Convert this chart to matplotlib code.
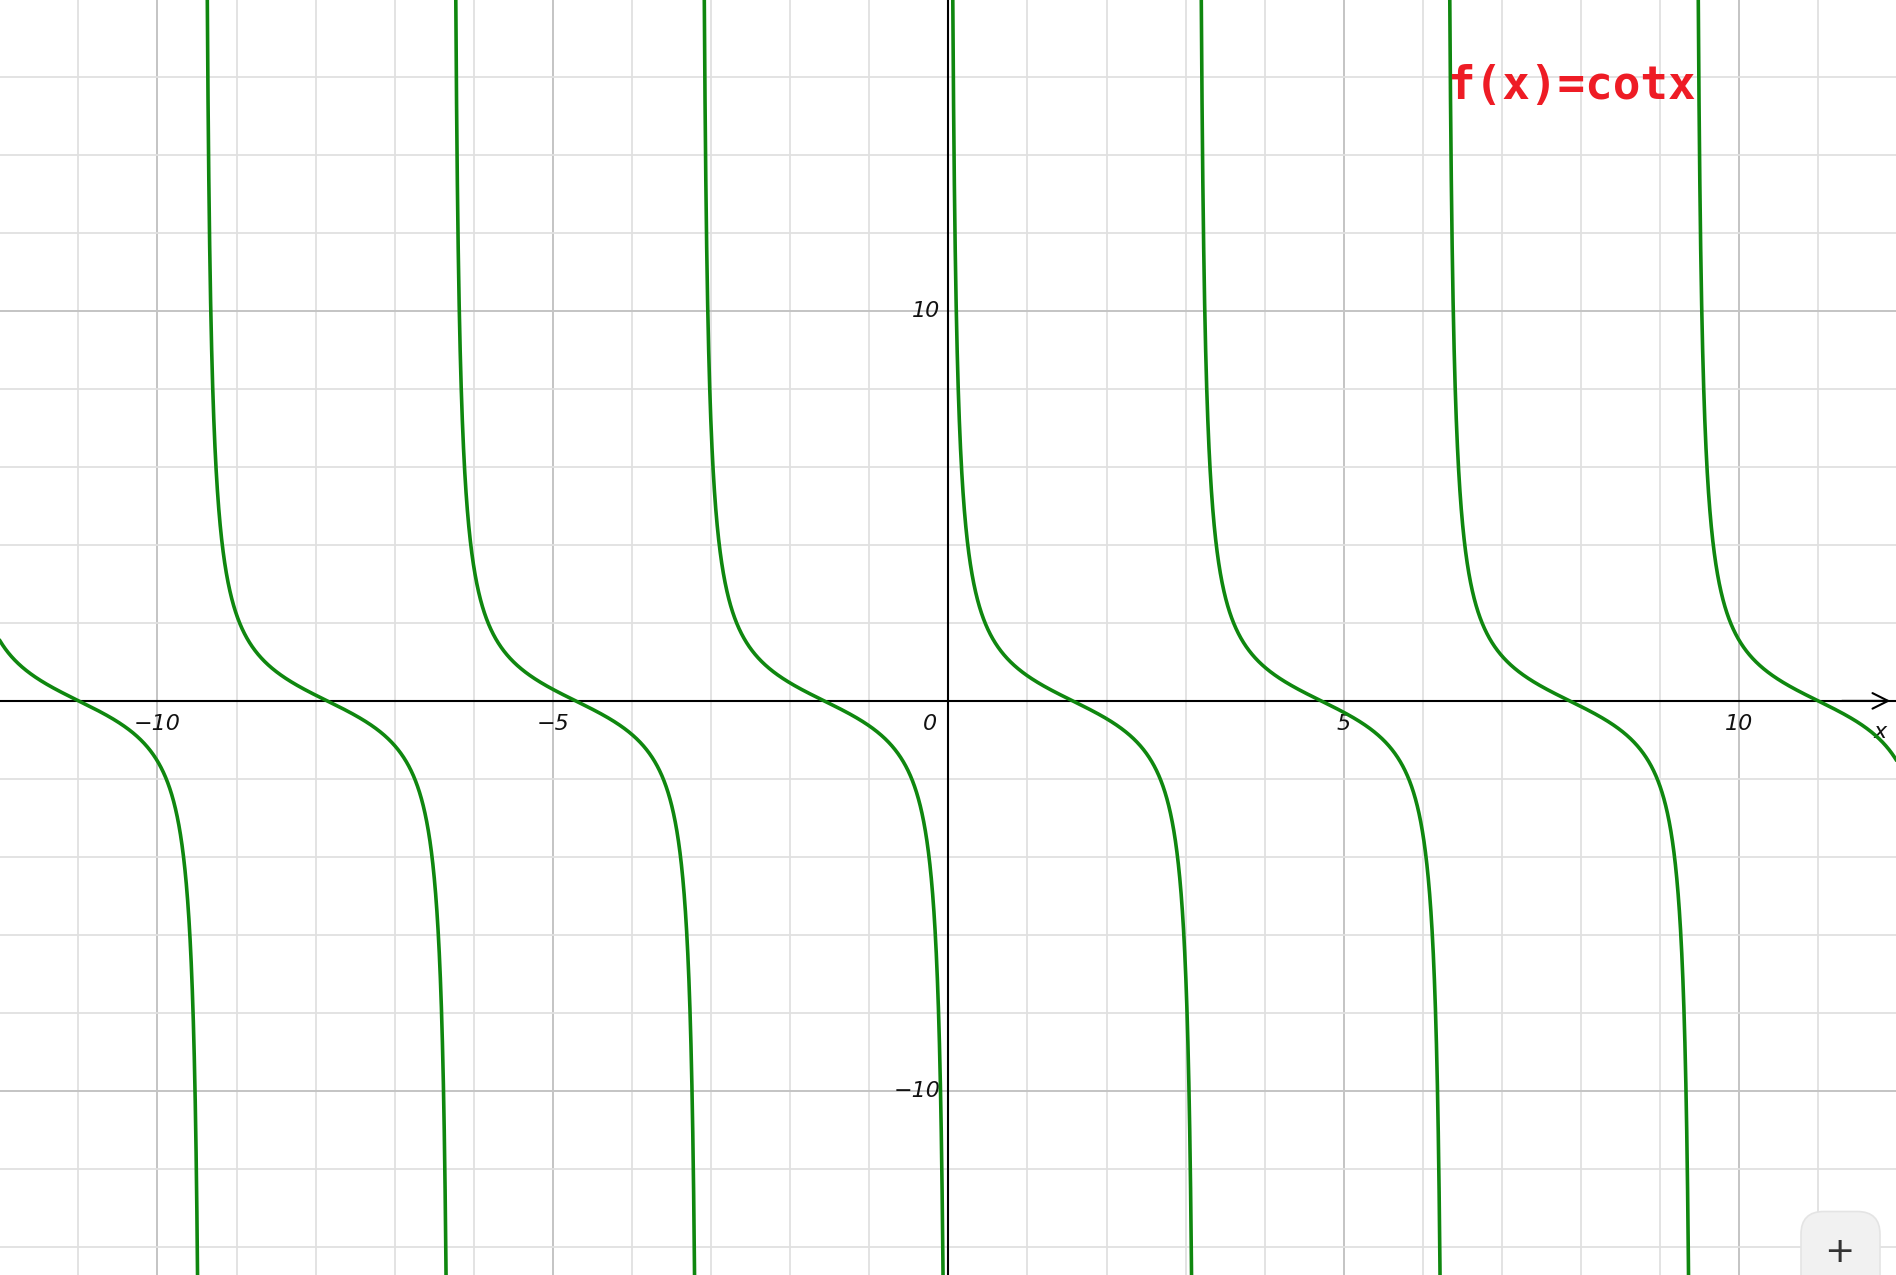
import numpy as np
import matplotlib.pyplot as plt
from matplotlib.patches import FancyBboxPatch

# view window
x_min, x_max = -11.99, 11.98
y_min, y_max = -14.72, 17.97

x_tick_vals = [-10, -5, 5, 10]
x_tick_txt = ["\u221210", "\u22125", "5", "10"]
y_tick_vals = [10, -10]
y_tick_txt = ["10", "\u221210"]

title = "f(x)=cotx"
curve_color = "#0f870f"

# the plotted function, cut at the asymptotes x = k*pi
xs = np.linspace(x_min, x_max, 24000)
ys = np.cos(xs) / np.sin(xs)
ys[np.abs(ys) > 60] = np.nan

fig = plt.figure(figsize=(18.96, 12.75), dpi=100)
ax = fig.add_axes([0, 0, 1, 1])
ax.set_xlim(x_min, x_max)
ax.set_ylim(y_min, y_max)

# grid: minor every 1 (x) / 2 (y), major every 5 (x) / 10 (y)
for gx in range(-12, 13):
    c, lw = ("#c4c4c4", 1.4) if gx % 5 == 0 else ("#e0e0e0", 1.3)
    ax.axvline(gx, color=c, lw=lw, zorder=0)
for gy in range(-14, 19, 2):
    c, lw = ("#c4c4c4", 1.4) if gy % 10 == 0 else ("#e0e0e0", 1.3)
    ax.axhline(gy, color=c, lw=lw, zorder=0)

# axes lines
ax.axhline(0, color="black", lw=1.5, zorder=2)
ax.axvline(0, color="black", lw=1.5, zorder=2)
ax.annotate("", xy=(0.9985, 0), xytext=(0.97, 0),
            xycoords=ax.get_yaxis_transform(), textcoords=ax.get_yaxis_transform(),
            arrowprops=dict(arrowstyle="->", color="black", lw=1.5, mutation_scale=28),
            zorder=3)

ax.plot(xs, ys, color=curve_color, lw=2.6, zorder=4)

tick_font = dict(fontsize=16, style="italic", family="DejaVu Sans", color="#111111")
for v, t in zip(x_tick_vals, x_tick_txt):
    ax.text(v, -0.6, t, ha="center", va="center", **tick_font)
ax.text(-0.15, -0.6, "0", ha="right", va="center", **tick_font)
for v, t in zip(y_tick_vals, y_tick_txt):
    ax.text(-0.1, v, t, ha="right", va="center", **tick_font)
ax.text(0.9915, -0.8, "x", transform=ax.get_yaxis_transform(),
        ha="center", va="center", **tick_font)

ax.text(0.763, 0.932, title, transform=ax.transAxes, ha="left", va="center",
        fontsize=33, fontweight="bold", family="DejaVu Sans Mono", color="#ee1c25",
        zorder=6)

# zoom button in the lower right corner
btn = FancyBboxPatch((1801 / 1896, -0.02), 79 / 1896, 89 / 1275,
                     boxstyle="round,pad=0,rounding_size=0.012",
                     transform=ax.transAxes, facecolor="#f1f1f1",
                     edgecolor="#e4e4e4", lw=1.2, zorder=7, clip_on=False,
                     mutation_aspect=1896 / 1275)
ax.add_patch(btn)
ax.text(1839 / 1896, 1 - 1252 / 1275, "+", transform=ax.transAxes,
        ha="center", va="center", fontsize=26, color="#333333", zorder=8)

ax.axis("off")
fig.savefig("out.png", dpi=100)
